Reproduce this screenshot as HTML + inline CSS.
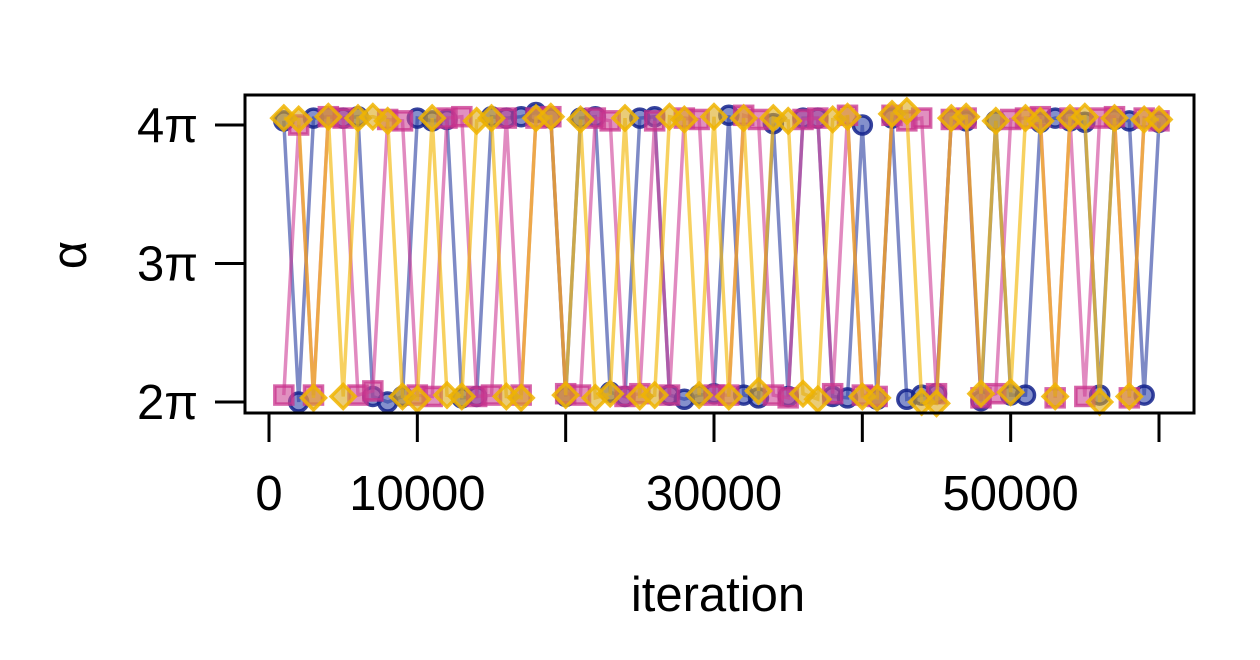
<!DOCTYPE html>
<html><head><meta charset="utf-8"><style>
html,body{margin:0;padding:0;background:#fff;}
svg{display:block;font-family:"Liberation Sans",sans-serif;}
</style></head><body>
<svg id="chart" width="1260" height="660" viewBox="0 0 1260 660" xmlns="http://www.w3.org/2000/svg">
<g id="series"></g>
<rect x="245" y="95" width="949" height="318" fill="none" stroke="#000" stroke-width="3"/>
<g id="axes"></g>
<text x="718" y="611" font-size="49" text-anchor="middle">iteration</text>
<text x="0" y="0" font-size="49" text-anchor="middle" transform="translate(86,255) rotate(-90)">α</text>
</svg>
<script>
const iterStart = 1000, iterStep = 1000;
const chainBlue = [4.03,2.0,4.05,4.06,4.05,4.06,2.04,2.0,2.04,4.05,4.03,4.04,2.03,2.04,4.06,4.05,4.06,4.09,4.05,2.04,4.05,4.06,2.07,2.04,4.05,4.06,2.05,2.02,2.05,2.06,4.07,2.05,2.03,4.01,2.04,4.05,4.05,2.04,2.03,4.0,2.02,4.05,2.02,2.05,2.06,4.04,4.03,2.01,4.03,2.05,2.05,4.02,4.05,4.03,4.02,2.05,4.04,4.03,2.05,4.02];
const chainPink = [2.05,4.0,2.05,4.06,4.05,2.05,2.08,4.04,4.03,2.05,2.04,4.05,4.06,2.04,2.05,4.05,2.05,4.05,4.06,2.06,2.05,4.05,4.03,2.04,2.06,4.03,2.05,4.05,4.04,2.05,2.05,4.07,4.04,2.05,2.03,4.04,4.05,2.06,4.07,2.05,2.04,4.07,4.03,4.05,2.06,4.04,4.05,2.03,2.06,4.04,4.05,4.06,2.03,4.05,2.04,4.05,4.06,2.03,4.05,4.03];
const chainYellow = [4.05,4.04,2.03,4.06,2.04,4.05,4.06,4.03,2.04,2.02,4.05,2.05,2.04,4.03,4.05,2.04,2.03,4.05,4.06,2.05,4.04,2.03,2.06,4.05,2.04,2.05,4.06,4.04,2.05,4.06,2.04,4.05,2.08,4.05,4.03,2.06,2.02,4.04,4.06,2.04,2.03,4.08,4.1,2.0,1.99,4.05,4.06,2.06,4.03,2.07,4.05,4.03,2.04,4.05,4.06,2.0,4.05,2.04,4.04,4.04];
const xTicks = [0,10000,20000,30000,40000,50000,60000];
const xTickLabels = ["0","10000","","30000","","50000",""];
const yTicks = [2,3,4];
const yTickLabels = ["2π","3π","4π"];

const NS="http://www.w3.org/2000/svg";
function xs(v){return 269 + (v/60000)*(1159-269);}
function ys(v){return 402 - (v-2)*(402-125)/2;}
function mk(tag,attrs,parent){const e=document.createElementNS(NS,tag);for(const k in attrs)e.setAttribute(k,attrs[k]);parent.appendChild(e);return e;}
const series=document.getElementById('series');
const axes=document.getElementById('axes');
const chains=[
 {vals:chainBlue,line:'rgba(40,60,160,0.6)',fill:'rgba(50,70,170,0.6)',stroke:'rgba(20,35,140,0.85)',shape:'circle',name:'chain-1'},
 {vals:chainPink,line:'rgba(205,60,150,0.6)',fill:'rgba(205,70,150,0.6)',stroke:'rgba(200,50,140,0.75)',shape:'square',name:'chain-2'},
 {vals:chainYellow,line:'rgba(242,185,10,0.65)',fill:'rgba(220,170,30,0.6)',stroke:'rgba(240,180,0,0.85)',shape:'diamond',name:'chain-3'}
];
chains.forEach(c=>{
 const g=mk('g',{},series);
 
 
 const pts=c.vals.map((v,i)=>xs(iterStart+i*iterStep).toFixed(1)+','+ys(v).toFixed(1)).join(' ');
 const pl=mk('polyline',{points:pts,fill:'none',stroke:c.line,'stroke-width':3.5},g);
 
 
 c.vals.forEach((v,i)=>{
  const x=xs(iterStart+i*iterStep), y=ys(v);
  let m;
  if(c.shape==='circle') m=mk('circle',{cx:x,cy:y,r:9,fill:c.fill,stroke:c.stroke,'stroke-width':3.5},g);
  else if(c.shape==='square') m=mk('rect',{x:x-9,y:y-9,width:18,height:18,fill:c.fill,stroke:c.stroke,'stroke-width':3.5},g);
  else m=mk('polygon',{points:`${x},${y-12} ${x+12},${y} ${x},${y+12} ${x-12},${y}`,fill:c.fill,stroke:c.stroke,'stroke-width':3.5},g);
  
  
 });
});
xTicks.forEach((t,i)=>{
 const l=mk('line',{x1:xs(t),x2:xs(t),y1:413,y2:442,stroke:'#000','stroke-width':3},axes);
 
 
 if(xTickLabels[i]){
  const tx=mk('text',{x:xs(t),y:510,'font-size':49,'text-anchor':'middle'},axes);
  tx.textContent=xTickLabels[i];
  
  
 }
});
yTicks.forEach((t,i)=>{
 const l=mk('line',{x1:215,x2:245,y1:ys(t),y2:ys(t),stroke:'#000','stroke-width':3},axes);
 
 
 const tx=mk('text',{x:198,y:ys(t)+17,'font-size':49,'text-anchor':'end'},axes);
 tx.textContent=yTickLabels[i];
 
 
});
</script>
</body></html>
